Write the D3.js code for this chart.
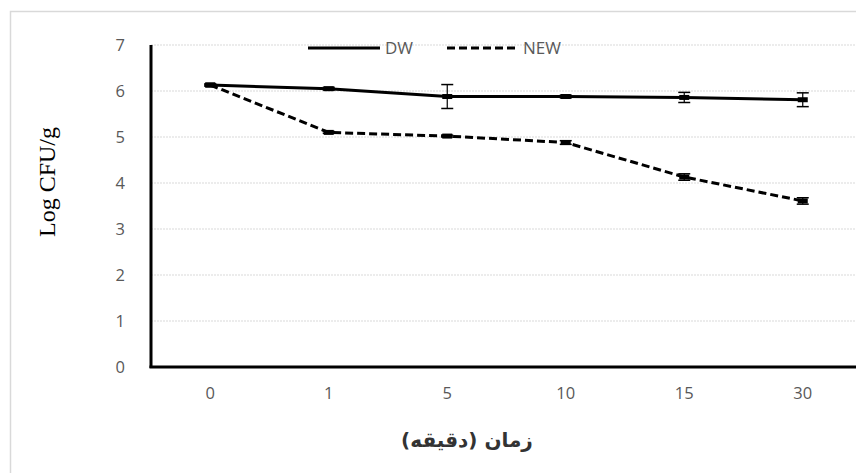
<!DOCTYPE html>
<html><head><meta charset="utf-8">
<script src="https://cdn.jsdelivr.net/npm/d3@7"></script>
<style>body{margin:0;background:#fff;overflow:hidden}</style>
</head><body>
<svg id="c" width="856" height="473"></svg>
<script>
const categories = ["0","1","5","10","15","30"];
const dwValues = [6.13, 6.05, 5.88, 5.88, 5.86, 5.81];
const dwErrors = [0.02, 0.03, 0.26, 0.03, 0.11, 0.15];
const newValues = [6.13, 5.10, 5.02, 4.88, 4.13, 3.61];
const newErrors = [0.02, 0.02, 0.02, 0.04, 0.07, 0.07];
const yTicks = [0,1,2,3,4,5,6,7];
const seriesNames = ["DW","NEW"];
const yTitle = "Log CFU/g";
const xTitle = "زمان (دقیقه)";

(function(){
const svg = d3.select("#c");
const mLeft = 151, mRight = 862, mTop = 45, mBottom = 367;
const tickFont = "'Open Sans', 'Noto Sans', sans-serif";

svg.append("rect").attr("x",10.5).attr("y",11.5).attr("width",900).attr("height",500)
  .attr("fill","none").attr("stroke","#d9d9d9").attr("stroke-width",1.5);

const x = d3.scaleBand().domain(categories).range([mLeft,mRight]);
const y = d3.scaleLinear().domain([0,7]).range([mBottom,mTop]);
const cx = c => x(c) + x.bandwidth()/2;

svg.append("g").selectAll("line").data(yTicks.filter(t=>t>0)).join("line")
  .attr("x1",mLeft).attr("x2",856).attr("y1",d=>y(d)).attr("y2",d=>y(d))
  .attr("stroke","#d9d9d9").attr("stroke-width",1).attr("stroke-dasharray","2,1");

const yAxis = d3.axisLeft(y).tickValues(yTicks).tickFormat(d3.format("d")).tickSize(0).tickPadding(26);
const gy = svg.append("g").attr("transform",`translate(${mLeft},0)`).call(yAxis);
gy.select(".domain").remove();
gy.selectAll("text").attr("font-family",tickFont).attr("font-size",16.5).attr("fill","#595959");

const xAxis = d3.axisBottom(x).tickSize(0).tickPadding(20);
const gx = svg.append("g").attr("transform",`translate(0,${mBottom})`).call(xAxis);
gx.select(".domain").remove();
gx.selectAll("text").attr("font-family",tickFont).attr("font-size",16.5).attr("fill","#595959");

svg.append("line").attr("x1",mLeft).attr("x2",mLeft).attr("y1",mTop).attr("y2",mBottom+1)
  .attr("stroke","#000").attr("stroke-width",3);
svg.append("line").attr("x1",mLeft-1.5).attr("x2",856).attr("y1",mBottom).attr("y2",mBottom)
  .attr("stroke","#000").attr("stroke-width",3);

const line = d3.line().x((d,i)=>cx(categories[i])).y(d=>y(d));

function drawSeries(vals, errs, dash){
  const g = svg.append("g");
  g.append("path").datum(vals).attr("d",line).attr("fill","none")
    .attr("stroke","#000").attr("stroke-width",3).attr("stroke-dasharray",dash);
  const eb = g.selectAll("g.eb").data(vals).join("g");
  eb.append("line").attr("x1",(d,i)=>cx(categories[i])).attr("x2",(d,i)=>cx(categories[i]))
    .attr("y1",(d,i)=>y(d+errs[i])).attr("y2",(d,i)=>y(d-errs[i])).attr("stroke","#000").attr("stroke-width",1.2);
  ["+","-"].forEach(s=>{
    eb.append("line").attr("x1",(d,i)=>cx(categories[i])-6).attr("x2",(d,i)=>cx(categories[i])+6)
      .attr("y1",(d,i)=>y(s==="+"?d+errs[i]:d-errs[i])).attr("y2",(d,i)=>y(s==="+"?d+errs[i]:d-errs[i]))
      .attr("stroke","#000").attr("stroke-width",1.5);
  });
  eb.append("rect").attr("x",(d,i)=>cx(categories[i])-5).attr("y",d=>y(d)-2.5)
    .attr("width",10).attr("height",5).attr("fill","#000");
}
drawSeries(dwValues, dwErrors, null);
drawSeries(newValues, newErrors, "8,4");

const lg = svg.append("g").attr("font-family",tickFont).attr("font-size",17).attr("fill","#595959");
lg.append("line").attr("x1",308).attr("x2",380).attr("y1",48).attr("y2",48).attr("stroke","#000").attr("stroke-width",3);
lg.append("text").attr("x",385).attr("y",54).text(seriesNames[0]);
lg.append("line").attr("x1",447).attr("x2",518).attr("y1",48).attr("y2",48).attr("stroke","#000").attr("stroke-width",3).attr("stroke-dasharray","8,4");
lg.append("text").attr("x",523).attr("y",54).text(seriesNames[1]);

svg.append("text").attr("transform","translate(55,182) rotate(-90)").attr("text-anchor","middle")
  .attr("font-family","'Liberation Serif', 'Times New Roman', serif").attr("font-size",24).attr("fill","#000").text(yTitle);
svg.append("text").attr("x",467).attr("y",447).attr("text-anchor","middle").attr("direction","rtl")
  .attr("font-family","'DejaVu Sans', 'Noto Sans', sans-serif").attr("font-size",20).attr("font-weight",600).attr("fill","#333").text(xTitle);
})();
</script>
</body></html>
